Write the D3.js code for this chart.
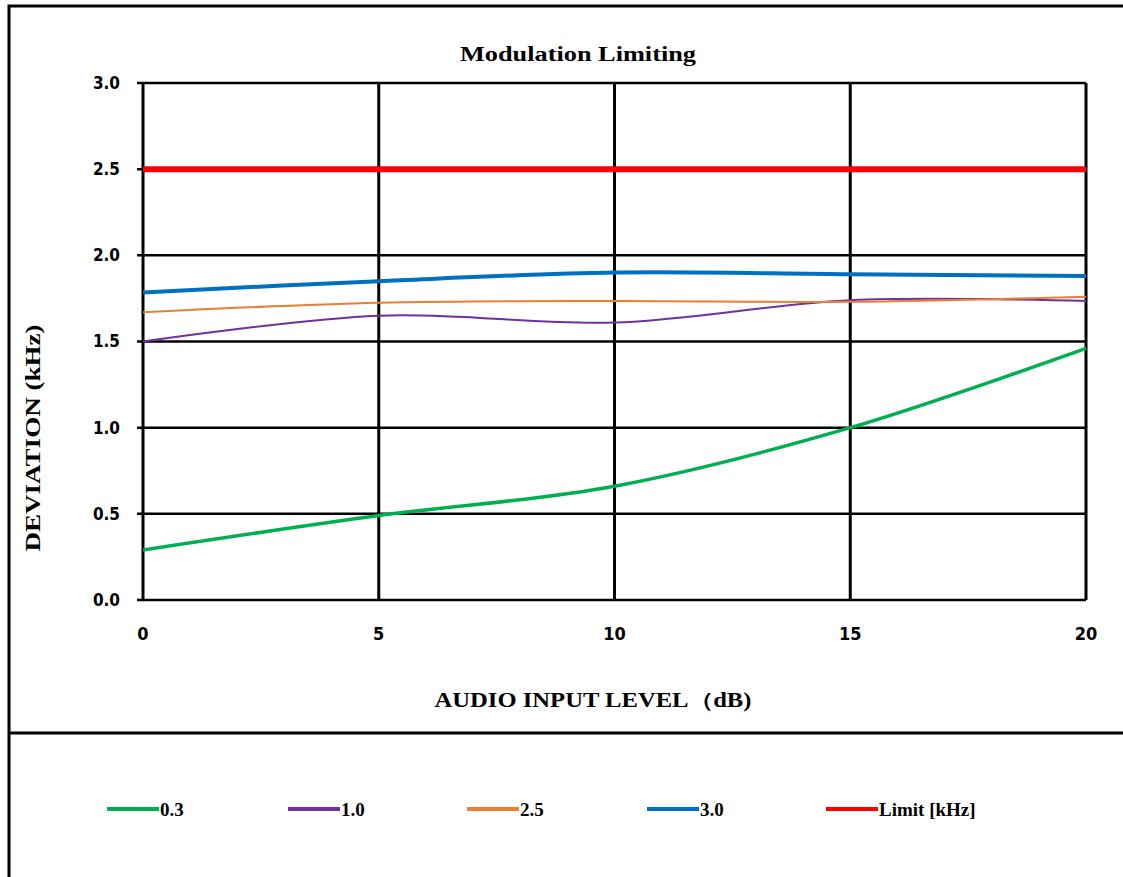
<!DOCTYPE html>
<html><head><meta charset="utf-8">
<script src="https://cdn.jsdelivr.net/npm/d3@7"></script>
<style>body{margin:0;background:#fff}svg{display:block}</style>
</head><body>
<svg id="c" width="1123" height="877"></svg>
<script>
const xValues = [0, 5, 10, 15, 20];
const xTickLabels = ["0", "5", "10", "15", "20"];
const yTicks = [0, 0.5, 1.0, 1.5, 2.0, 2.5, 3.0];
const seriesNames = ["0.3", "1.0", "2.5", "3.0", "Limit [kHz]"];
const s03 = [0.29, 0.49, 0.66, 1.00, 1.46];
const s10 = [1.50, 1.65, 1.61, 1.74, 1.735];
const s25 = [1.67, 1.725, 1.735, 1.73, 1.76];
const s30 = [1.785, 1.85, 1.90, 1.89, 1.88];
const sLimit = [2.5, 2.5, 2.5, 2.5, 2.5];
const colors = ["#00B050", "#7030A0", "#ED7D31", "#0070C0", "#FF0000"];
const widths = [3.5, 2, 2, 4, 6];
const allSeries = [s03, s10, s25, s30, sLimit];

const svg = d3.select("#c");
const L = 143, R = 1086, T = 83, B = 600;
const x = d3.scaleLinear().domain([0, 20]).range([L, R]);
const y = d3.scaleLinear().domain([0, 3]).range([B, T]);

// outer frame
svg.append("rect").attr("x", 9).attr("y", 6).attr("width", 1130).attr("height", 890)
  .attr("fill", "none").attr("stroke", "#000").attr("stroke-width", 3);
svg.append("line").attr("x1", 9).attr("x2", 1123).attr("y1", 733).attr("y2", 733)
  .attr("stroke", "#000").attr("stroke-width", 3);

// gridlines
svg.append("g").selectAll("line").data(yTicks).join("line")
  .attr("x1", L - 6).attr("x2", R).attr("y1", d => y(d)).attr("y2", d => y(d))
  .attr("stroke", "#000").attr("stroke-width", 2.5);
svg.append("g").selectAll("line").data(xValues).join("line")
  .attr("x1", d => x(d)).attr("x2", d => x(d)).attr("y1", T).attr("y2", B)
  .attr("stroke", "#000").attr("stroke-width", 3);

// y tick labels
const tickFont = "'Liberation Sans Narrow','DejaVu Sans Condensed',sans-serif";
svg.append("g").selectAll("text").data(yTicks).join("text")
  .attr("x", 120).attr("y", d => y(d)).attr("dy", "0.35em").attr("text-anchor", "end")
  .attr("font-family", tickFont).attr("font-weight", "bold").attr("font-size", 17)
  .text(d => d.toFixed(1));
// x tick labels
svg.append("g").selectAll("text").data(xValues).join("text")
  .attr("x", d => x(d)).attr("y", 640).attr("text-anchor", "middle")
  .attr("font-family", tickFont).attr("font-weight", "bold").attr("font-size", 18)
  .text((d, i) => xTickLabels[i]);

// lines
const line = d3.line().x((d, i) => x(xValues[i])).y(d => y(d)).curve(d3.curveCatmullRom.alpha(0));
allSeries.forEach((s, i) => {
  svg.append("path").datum(s).attr("d", line).attr("fill", "none")
    .attr("stroke", colors[i]).attr("stroke-width", widths[i]).attr("stroke-linecap", "butt");
});

// titles
const serif = "'Liberation Serif','Times New Roman',serif";
svg.append("text").attr("x", 578).attr("y", 61).attr("text-anchor", "middle")
  .attr("font-family", serif).attr("font-weight", "bold").attr("font-size", 20)
  .attr("textLength", 236).attr("lengthAdjust", "spacingAndGlyphs")
  .text("Modulation Limiting");
svg.append("text").attr("x", 593).attr("y", 707).attr("text-anchor", "middle")
  .attr("font-family", serif).attr("font-weight", "bold").attr("font-size", 20)
  .attr("textLength", 317).attr("lengthAdjust", "spacingAndGlyphs")
  .text("AUDIO INPUT LEVEL（dB)");
svg.append("text").attr("transform", "translate(40,438) rotate(-90)").attr("text-anchor", "middle")
  .attr("font-family", serif).attr("font-weight", "bold").attr("font-size", 21)
  .attr("textLength", 227).attr("lengthAdjust", "spacingAndGlyphs")
  .text("DEVIATION (kHz)");

// legend
const legX = [107, 288, 467, 647, 826];
const lg = svg.append("g").selectAll("g").data(seriesNames).join("g")
  .attr("transform", (d, i) => `translate(${legX[i]},809)`);
lg.append("line").attr("x1", 0).attr("x2", 52).attr("y1", 0).attr("y2", 0)
  .attr("stroke", (d, i) => colors[i]).attr("stroke-width", 4);
lg.append("text").attr("x", 53).attr("y", 0).attr("dy", "0.35em")
  .attr("font-family", serif).attr("font-weight", "bold").attr("font-size", 19)
  .text(d => d);
</script>
</body></html>
